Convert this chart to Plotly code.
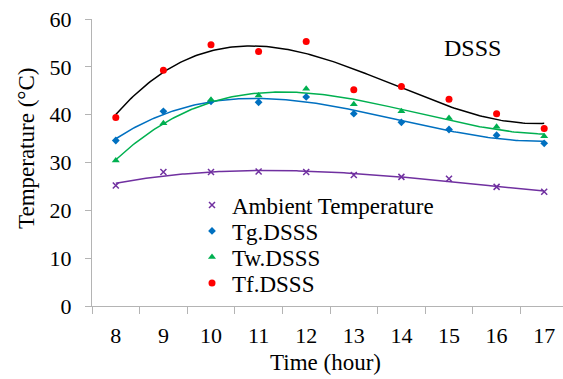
import numpy as np
import plotly.graph_objects as go

hours = [8, 9, 10, 11, 12, 13, 14, 15, 16, 17]
ambient = [25.2, 28.0, 28.0, 28.1, 28.0, 27.4, 27.0, 26.6, 24.9, 23.9]
tg = [34.6, 40.7, 42.8, 42.6, 43.7, 40.2, 38.4, 36.9, 35.7, 34.0]
tw = [30.4, 38.2, 43.1, 44.0, 45.4, 42.2, 40.7, 39.3, 37.5, 35.5]
tf = [39.4, 49.3, 54.6, 53.2, 55.3, 45.2, 45.9, 43.2, 40.2, 37.1]

names = ["Ambient Temperature", "Tg.DSSS", "Tw.DSSS", "Tf.DSSS"]
series = [ambient, tg, tw, tf]
mcolors = ["#7030A0", "#0070C0", "#00B050", "#FF0000"]
lcolors = ["#7030A0", "#0070C0", "#00B050", "#000000"]
symbols = ["x-thin-open", "diamond", "triangle-up", "circle"]
sizes = [6, 6, 7, 7]
lwidths = [1.5, 0, 0, 0]
FONT = "Liberation Serif"

W, H, L, T, B = 563, 379, 92, 19, 73
pw, ph = W - L, H - T - B
def px(x):
    return (x - L) / pw
def py(y):
    return (H - B - y) / ph

legend_rows = [205, 231, 257, 283]
legend_keys = ["legend", "legend2", "legend3", "legend4"]

fig = go.Figure()
xs = np.linspace(hours[0], hours[-1], 200)
for name, ys, lc in zip(names, series, lcolors):
    coef = np.polyfit(hours, ys, 3)
    fig.add_trace(go.Scatter(x=xs, y=np.polyval(coef, xs), mode="lines",
                             line=dict(color=lc, width=1.5), showlegend=False,
                             hoverinfo="skip"))
for name, ys, mc, sym, sz, lw, lk in zip(names, series, mcolors, symbols, sizes,
                                         lwidths, legend_keys):
    fig.add_trace(go.Scatter(x=hours, y=ys, mode="markers", name=name,
                             legend=lk, showlegend=True,
                             marker=dict(color=mc, symbol=sym, size=sz,
                                         line=dict(color=mc, width=lw))))

axcol = "#B4B4B4"
layout_legends = {}
for lk, yr in zip(legend_keys, legend_rows):
    layout_legends[lk] = dict(x=px(192), y=py(yr), xanchor="left", yanchor="middle",
                              font=dict(size=23, family=FONT, color="black"),
                              bgcolor="rgba(0,0,0,0)", borderwidth=0)

fig.update_layout(
    width=W, height=H,
    margin=dict(l=L, r=0, t=T, b=B),
    paper_bgcolor="white", plot_bgcolor="white",
    font=dict(family=FONT, size=22, color="black"),
    showlegend=True,
    xaxis=dict(range=[7.5, 7.5 + pw / 47.6], tickvals=hours,
               ticktext=[str(h) for h in hours],
               showgrid=False, zeroline=False, showline=True, linecolor=axcol,
               linewidth=1, ticks="", tickfont=dict(size=22),
               ticklabelstandoff=10,
               minor=dict(tickvals=[h - 0.5 for h in hours], ticks="outside",
                          ticklen=7, tickcolor=axcol, showgrid=False)),
    yaxis=dict(range=[0, 60], dtick=10, showgrid=False, zeroline=False,
               showline=True, linecolor=axcol, linewidth=1, ticks="outside",
               ticklen=6, tickcolor=axcol, tickfont=dict(size=22),
               ticklabelstandoff=9),
    annotations=[
        dict(text="DSSS", x=px(472), y=py(48), xref="paper", yref="paper",
             xanchor="center", yanchor="middle",
             showarrow=False, font=dict(size=24, family=FONT)),
        dict(text="Time (hour)", x=px(325), y=py(362), xref="paper", yref="paper",
             xanchor="center", yanchor="middle",
             showarrow=False, font=dict(size=23, family=FONT)),
        dict(text="Temperature (°C)", textangle=-90, x=px(26), y=py(149),
             xref="paper", yref="paper", xanchor="center", yanchor="middle",
             showarrow=False, font=dict(size=23, family=FONT)),
    ],
    **layout_legends,
)
fig.write_html("out.html")
